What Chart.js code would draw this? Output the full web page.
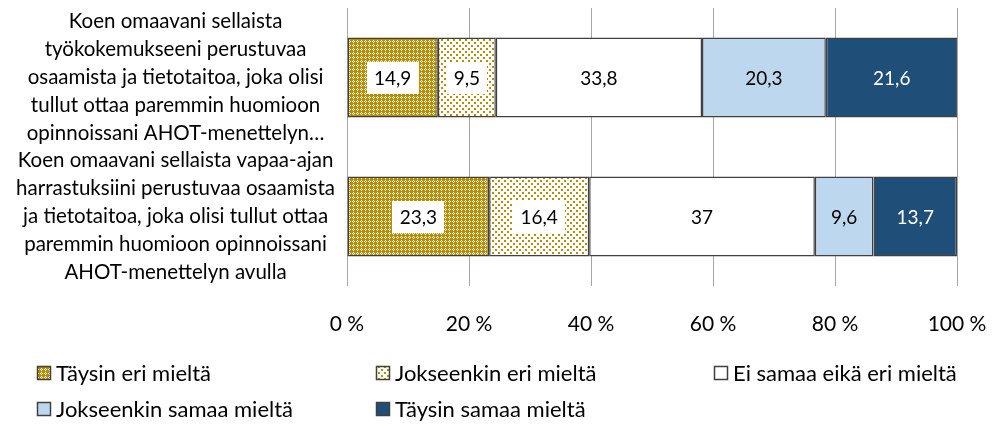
<!DOCTYPE html>
<html>
<head>
<meta charset="utf-8">
<script src="https://cdn.jsdelivr.net/npm/chart.js@4"></script>
<style>
html,body{margin:0;padding:0;background:#fff;}
#wrap{width:995px;height:424px;}
</style>
</head>
<body>
<div id="wrap"><canvas id="c" width="995" height="424"></canvas></div>
<script>
// ---- data ----
const categories = [
  ["Koen omaavani sellaista", "työkokemukseeni perustuvaa", "osaamista ja tietotaitoa, joka olisi", "tullut ottaa paremmin huomioon", "opinnoissani AHOT-menettelyn…"],
  ["Koen omaavani sellaista vapaa-ajan", "harrastuksiini perustuvaa osaamista", "ja tietotaitoa, joka olisi tullut ottaa", "paremmin huomioon opinnoissani", "AHOT-menettelyn avulla"]
];
const seriesNames = ["Täysin eri mieltä", "Jokseenkin eri mieltä", "Ei samaa eikä eri mieltä", "Jokseenkin samaa mieltä", "Täysin samaa mieltä"];
const taysinEri = [14.9, 23.3];
const jokseenkinEri = [9.5, 16.4];
const eiSamaaEikaEri = [33.8, 37];
const jokseenkinSamaa = [20.3, 9.6];
const taysinSamaa = [21.6, 13.7];
const xTickValues = [0, 20, 40, 60, 80, 100];

// ---- patterns ----
const GOLD = '#BA8C00';
function makePattern(draw, w, h) {
  const c = document.createElement('canvas');
  c.width = w; c.height = h;
  const g = c.getContext('2d');
  draw(g);
  return g.createPattern(c, 'repeat');
}
const ctx0 = document.getElementById('c').getContext('2d');
const pat1 = makePattern(g => {
  g.fillStyle = GOLD; g.fillRect(0, 0, 4, 4);
  g.fillStyle = '#fff';
  [[1,0],[0,1],[2,1],[1,2]].forEach(p => g.fillRect(p[0], p[1], 1, 1));
}, 4, 4);
const pat2 = makePattern(g => {
  g.fillStyle = '#fff'; g.fillRect(0, 0, 6, 6);
  g.fillStyle = GOLD;
  g.fillRect(0, 0, 2, 2); g.fillRect(3, 3, 2, 2);
}, 6, 6);

const fills = [pat1, pat2, '#FFFFFF', '#BDD7EE', '#1F4E79'];
const labelColors = ['#000', '#000', '#000', '#000', '#fff'];
const labelBoxes = [true, true, false, false, false];
const seriesData = [taysinEri, jokseenkinEri, eiSamaaEikaEri, jokseenkinSamaa, taysinSamaa];

const FONT = 'Lato, "Open Sans", sans-serif';

const dataLabelPlugin = {
  id: 'dataLabels',
  afterDatasetsDraw(chart) {
    const ctx = chart.ctx;
    ctx.save();
    ctx.font = '19px ' + FONT;
    ctx.textAlign = 'center';
    ctx.textBaseline = 'middle';
    chart.data.datasets.forEach((ds, di) => {
      const meta = chart.getDatasetMeta(di);
      meta.data.forEach((el, i) => {
        const v = ds.data[i];
        const txt = String(v).replace('.', ',');
        const cx = (el.x + el.base) / 2;
        const cy = el.y;
        if (labelBoxes[di]) {
          const w = ctx.measureText(txt).width + 15;
          const h = 32;
          ctx.fillStyle = '#fff';
          ctx.fillRect(Math.round(cx - w / 2), Math.round(cy - h / 2), Math.round(w), h);
        }
        ctx.fillStyle = labelColors[di];
        ctx.fillText(txt, cx, cy + 1);
      });
    });
    ctx.restore();
  }
};

const legendPlugin = {
  id: 'customLegend',
  afterDraw(chart) {
    const ctx = chart.ctx;
    const cols = [37, 376, 714];
    const rows = [373, 409];
    ctx.save();
    ctx.font = '22px ' + FONT;
    ctx.textBaseline = 'middle';
    ctx.textAlign = 'left';
    chart.data.datasets.forEach((ds, i) => {
      const x = cols[i % 3];
      const y = rows[Math.floor(i / 3)];
      ctx.fillStyle = ds.backgroundColor;
      ctx.fillRect(x, y - 7, 14, 14);
      ctx.strokeStyle = '#404040';
      ctx.lineWidth = 1.5;
      ctx.strokeRect(x + 0.5, y - 6.5, 13, 13);
      ctx.fillStyle = '#000';
      ctx.fillText(ds.label, x + 19, y + 1);
    });
    ctx.restore();
  }
};

new Chart(ctx0, {
  type: 'bar',
  data: {
    labels: categories,
    datasets: seriesData.map((d, i) => ({
      label: seriesNames[i],
      data: d,
      backgroundColor: fills[i],
      borderColor: '#404040',
      borderWidth: 1.5,
      borderSkipped: false,
      barPercentage: 0.576,
      categoryPercentage: 1
    }))
  },
  options: {
    indexAxis: 'y',
    responsive: false,
    devicePixelRatio: 1,
    animation: false,
    layout: { padding: { top: 8, right: 38, left: 0, bottom: 0 } },
    plugins: { legend: { display: false }, tooltip: { enabled: false } },
    scales: {
      x: {
        stacked: true,
        min: 0, max: 100,
        afterBuildTicks(scale) { scale.ticks = xTickValues.map(v => ({ value: v })); },
        afterFit(scale) { scale.height = 138; scale.paddingLeft = 0; scale.paddingRight = 0; },
        grid: { color: '#A6A6A6', lineWidth: 1, drawTicks: false },
        border: { display: false },
        ticks: {
          padding: 26,
          color: '#000',
          font: { family: FONT, size: 21 },
          callback: v => v + ' %'
        }
      },
      y: {
        stacked: true,
        afterFit(scale) { scale.width = 347; scale.paddingTop = 0; scale.paddingBottom = 0; },
        grid: { display: false, drawTicks: false },
        border: { display: false },
        ticks: {
          autoSkip: false,
          crossAlign: 'center',
          padding: 12,
          color: '#000',
          font: { family: FONT, size: 20.5, lineHeight: '28px' }
        }
      }
    }
  },
  plugins: [dataLabelPlugin, legendPlugin]
});
</script>
</body>
</html>
